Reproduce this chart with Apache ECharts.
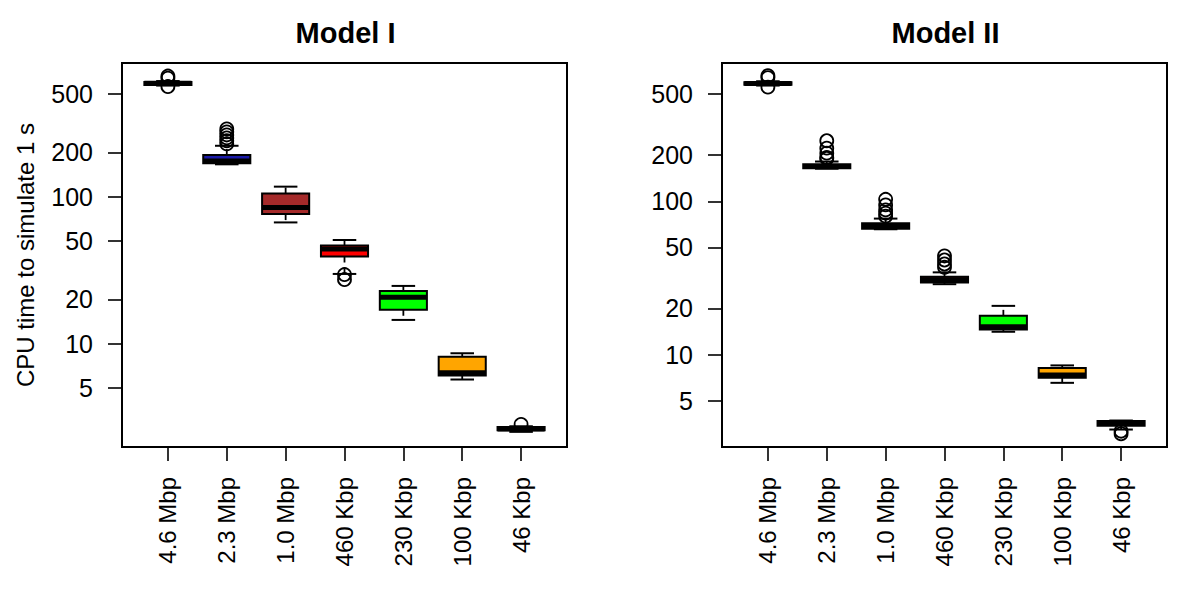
<!DOCTYPE html>
<html>
<head>
<meta charset="utf-8">
<script src="https://cdn.jsdelivr.net/npm/echarts@6/dist/echarts.min.js"></script>
<style>
  html, body { margin: 0; padding: 0; background: #fff; }
  #chart { width: 1200px; height: 600px; }
</style>
</head>
<body>
<div id="chart"></div>
<script>
// ---------- data ----------
const categories = ['4.6 Mbp', '2.3 Mbp', '1.0 Mbp', '460 Kbp', '230 Kbp', '100 Kbp', '46 Kbp'];
const yTickValues = [5, 10, 20, 50, 100, 200, 500];
const panelTitles = ['Model I', 'Model II'];
const yAxisTitle = 'CPU time to simulate 1 s';

// Model I box statistics
const model1Low    = [570, 166, 66.8, 29.8, 14.5, 5.70, 2.51];
const model1Q1     = [576, 169, 76.1, 39.2, 17.0, 6.07, 2.57];
const model1Median = [592, 175, 84.5, 44.1, 20.7, 6.33, 2.63];
const model1Q3     = [603, 192, 105,  46.6, 22.8, 8.13, 2.71];
const model1High   = [612, 222, 117,  50.7, 24.7, 8.60, 2.74];
const model1Outliers = [
  [662, 640, 561],
  [289, 276, 263, 251, 240, 229],
  [],
  [29.5, 27.3],
  [],
  [],
  [2.82]
];
const model1Colors = ['#000000', '#1a1aa8', '#a52a2a', '#ff0000', '#00ff00', '#ffa500', '#000000'];

// Model II box statistics
const model2Low    = [568, 163, 65.7, 28.8, 14.1, 6.55, 3.25];
const model2Q1     = [575, 164.4, 66.1, 29.5, 14.6, 7.07, 3.44];
const model2Median = [586, 168.4, 68.4, 30.7, 15.2, 7.36, 3.56];
const model2Q3     = [597, 174.6, 71.9, 32.2, 17.9, 8.18, 3.69];
const model2High   = [606, 181.6, 77.1, 34.4, 20.8, 8.51, 3.72];
const model2Outliers = [
  [658, 640, 555],
  [248, 222, 206, 193, 190],
  [103, 94.7, 87.9, 83.6, 80],
  [44, 41.4, 39, 37.1],
  [],
  [],
  [3.17, 3.05]
];
const model2Colors = ['#000000', '#000000', '#000000', '#4a0a0a', '#00ff00', '#ffa500', '#000000'];

// axis ranges (data units)
const yRanges = [[1.98, 812], [2.5, 797]];
const xRange = [0.22, 7.78];

// ---------- build ----------
const lg = v => Math.log10(v);
const FONT = '"Liberation Sans", Arial, Helvetica, sans-serif';

function boxData(low, q1, med, q3, high) {
  return categories.map((c, i) => [i + 1, lg(low[i]), lg(q1[i]), lg(med[i]), lg(q3[i]), lg(high[i])]);
}
function outlierData(outs) {
  const d = [];
  outs.forEach((arr, i) => arr.forEach(v => d.push([i + 1, lg(v)])));
  return d;
}

function makeRender(colors) {
  return function (params, api) {
    const x = api.value(0);
    const pLow = api.coord([x, api.value(1)]);
    const pQ1 = api.coord([x, api.value(2)]);
    const pMed = api.coord([x, api.value(3)]);
    const pQ3 = api.coord([x, api.value(4)]);
    const pHigh = api.coord([x, api.value(5)]);
    const halfW = api.size([0.8, 0])[0] / 2;
    const capHalf = api.size([0.4, 0])[0] / 2;
    const cx = pMed[0];
    const black = '#000';
    return {
      type: 'group',
      children: [
        { type: 'line', shape: { x1: cx, y1: pQ3[1], x2: cx, y2: pHigh[1] },
          style: { stroke: black, lineWidth: 1.8, lineDash: [6, 5] } },
        { type: 'line', shape: { x1: cx, y1: pQ1[1], x2: cx, y2: pLow[1] },
          style: { stroke: black, lineWidth: 1.8, lineDash: [6, 5] } },
        { type: 'line', shape: { x1: cx - capHalf, y1: pHigh[1], x2: cx + capHalf, y2: pHigh[1] },
          style: { stroke: black, lineWidth: 2 } },
        { type: 'line', shape: { x1: cx - capHalf, y1: pLow[1], x2: cx + capHalf, y2: pLow[1] },
          style: { stroke: black, lineWidth: 2 } },
        { type: 'rect', shape: { x: cx - halfW, y: pQ3[1], width: 2 * halfW, height: pQ1[1] - pQ3[1] },
          style: { fill: colors[params.dataIndex], stroke: black, lineWidth: 2 } },
        { type: 'line', shape: { x1: cx - halfW, y1: pMed[1], x2: cx + halfW, y2: pMed[1] },
          style: { stroke: black, lineWidth: 5 } }
      ]
    };
  };
}

const gridLefts = [122, 722];
const grids = gridLefts.map(l => ({
  left: l, top: 63, width: 445, height: 384,
  show: true, borderColor: '#000', borderWidth: 2, backgroundColor: 'transparent'
}));

const xTicks = categories.map((c, i) => i + 1);
const xAxes = [0, 1].map(g => ({
  type: 'value', gridIndex: g, min: xRange[0], max: xRange[1],
  splitLine: { show: false },
  axisLine: { show: true, lineStyle: { color: '#000', width: 2 } },
  axisTick: { show: true, customValues: xTicks, length: 14, lineStyle: { color: '#000', width: 1.6 } },
  axisLabel: {
    customValues: xTicks, rotate: 90, margin: 30,
    formatter: v => categories[Math.round(v) - 1],
    fontSize: 24, color: '#000', fontFamily: FONT
  }
}));

const yTickLogs = yTickValues.map(lg);
const yAxes = [0, 1].map(g => ({
  type: 'value', gridIndex: g, min: lg(yRanges[g][0]), max: lg(yRanges[g][1]),
  splitLine: { show: false },
  name: g === 0 ? yAxisTitle : '',
  nameLocation: 'middle', nameGap: 85,
  nameTextStyle: { fontSize: 24, color: '#000', fontFamily: FONT },
  axisLine: { show: true, lineStyle: { color: '#000', width: 2 } },
  axisTick: { show: true, customValues: yTickLogs, length: 14, lineStyle: { color: '#000', width: 1.6 } },
  axisLabel: {
    customValues: yTickLogs, margin: 29,
    formatter: v => String(Math.round(Math.pow(10, v))),
    fontSize: 25, color: '#000', fontFamily: FONT
  }
}));

const panels = [
  { box: boxData(model1Low, model1Q1, model1Median, model1Q3, model1High), outs: outlierData(model1Outliers), colors: model1Colors },
  { box: boxData(model2Low, model2Q1, model2Median, model2Q3, model2High), outs: outlierData(model2Outliers), colors: model2Colors }
];

const series = [];
panels.forEach((p, g) => {
  series.push({
    type: 'custom', xAxisIndex: g, yAxisIndex: g,
    renderItem: makeRender(p.colors), data: p.box, z: 2, silent: true
  });
  series.push({
    type: 'scatter', xAxisIndex: g, yAxisIndex: g, data: p.outs,
    symbol: 'circle', symbolSize: 13, z: 3, silent: true,
    itemStyle: { color: 'rgba(0,0,0,0)', borderColor: '#000', borderWidth: 1.8, opacity: 1 }
  });
});

const titles = panelTitles.map((t, g) => ({
  text: t,
  left: gridLefts[g] + 445 / 2 - 4, top: 13,
  textAlign: 'center',
  textStyle: { fontSize: 29, fontWeight: 'bold', color: '#000', fontFamily: FONT }
}));

const chart = echarts.init(document.getElementById('chart'), null, { renderer: 'svg' });
chart.setOption({
  animation: false,
  backgroundColor: '#fff',
  title: titles,
  grid: grids,
  xAxis: xAxes,
  yAxis: yAxes,
  series: series
});
</script>
</body>
</html>
